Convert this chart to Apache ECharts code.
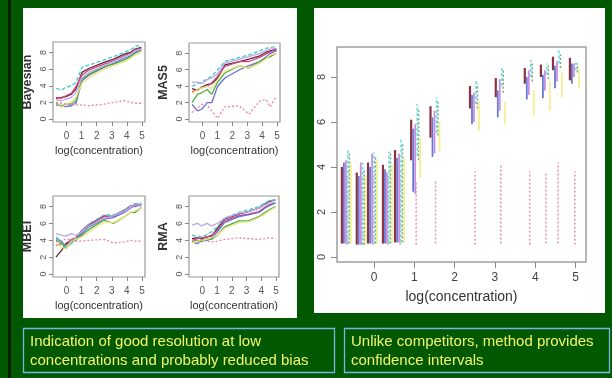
<!DOCTYPE html>
<html>
<head>
<meta charset="utf-8">
<script src="https://cdn.jsdelivr.net/npm/echarts@6/dist/echarts.min.js"></script>
<style>
html, body { margin: 0; padding: 0; background: #005800; }
#main { width: 612px; height: 378px; }
</style>
</head>
<body>
<div id="main"></div>
<script>
// log(concentration) of the spike-in levels
var conc = [-0.7, -0.33, -0.05, 0.32, 0.62, 1.02, 1.5, 2.48, 3.12, 3.84, 4.24, 4.54, 4.96];
var xTicks = [0, 1, 2, 3, 4, 5];
var yTicks = [0, 2, 4, 6, 8];

// lines in every small panel, same order in all of them
var lineNames = ['g1', 'g2', 'g3', 'g4', 'g5', 'g6', 'g7', 'absent'];
var lineColors = ['#5e2838', '#d4447f', '#6c6cd6', '#46b046', '#44caca', '#eee27a', '#bca8e8', '#e684a8'];
var lineDash = ['solid', 'solid', 'solid', 'solid', [4, 2], 'solid', 'solid', [2, 2]];

var bayesian = [
    [2.5, 2.6, 2.7, 3.0, 3.6, 5.6, 6.1, 6.8, 7.2, 7.8, 8.0, 8.4, 8.6],
    [2.6, 2.5, 2.8, 3.1, 3.9, 5.3, 5.9, 6.6, 7.0, 7.6, 7.9, 8.3, 8.5],
    [1.7, 1.6, 1.5, 1.6, 1.9, 4.6, 5.3, 6.2, 6.7, 7.3, 7.6, 8.0, 8.3],
    [1.9, 1.6, 1.8, 1.8, 2.2, 4.8, 5.4, 6.3, 6.6, 7.1, 7.5, 7.9, 8.2],
    [3.7, 3.5, 3.8, 4.0, 4.4, 6.2, 6.5, 7.1, 7.5, 8.0, 8.3, 8.7, 8.9],
    [2.1, 1.4, 1.8, 2.0, 2.6, 4.3, 5.0, 6.0, 6.4, 6.9, 7.3, 7.7, 8.1],
    [2.3, 2.2, 2.4, 2.6, 3.2, 5.0, 5.6, 6.4, 6.9, 7.5, 7.8, 8.2, 8.4],
    [2.0, 1.9, 1.8, 1.8, 1.7, 1.7, 1.6, 1.8, 2.0, 2.2, 2.0, 1.9, 1.9]
];
var mas5 = [
    [3.7, 3.5, 3.9, 4.2, 4.3, 5.0, 6.6, 7.0, 7.3, 7.7, 8.1, 8.3, 8.5],
    [3.3, 3.6, 3.8, 4.0, 4.4, 5.2, 6.4, 7.0, 7.0, 7.5, 7.9, 8.2, 8.4],
    [1.8, 1.0, 1.2, 2.0, 2.0, 4.0, 5.0, 6.0, 6.5, 7.0, 7.5, 8.0, 8.3],
    [2.0, 3.0, 3.2, 3.6, 3.0, 4.5, 5.6, 6.5, 6.2, 7.0, 7.4, 7.6, 8.0],
    [4.0, 4.3, 4.5, 4.9, 5.2, 6.0, 7.0, 7.5, 7.8, 8.3, 8.6, 8.7, 8.8],
    [3.1, 3.6, 3.8, 4.0, 3.7, 4.8, 5.8, 6.5, 6.2, 6.8, 7.3, 7.8, 8.0],
    [4.5, 4.5, 4.3, 4.8, 5.0, 5.5, 6.8, 7.3, 7.6, 8.0, 8.3, 8.5, 8.6],
    [0.8, 1.3, 1.8, 1.7, 1.0, 0.1, 1.5, 1.6, 0.6, 2.2, 2.4, 1.5, 2.8]
];
var mbei = [
    [2.0, 2.8, 3.6, 4.0, 4.2, 5.0, 5.8, 6.9, 6.8, 7.4, 7.9, 8.3, 8.2],
    [3.4, 3.6, 3.4, 4.1, 4.3, 5.2, 5.9, 6.8, 6.9, 7.6, 8.1, 8.0, 8.3],
    [4.2, 3.9, 3.2, 3.9, 4.0, 4.8, 5.6, 6.5, 6.7, 7.3, 7.8, 8.1, 8.1],
    [4.0, 3.7, 3.0, 3.8, 4.1, 4.6, 5.3, 6.4, 6.0, 6.8, 7.3, 7.3, 7.9],
    [4.4, 3.8, 3.3, 3.6, 4.3, 5.1, 6.0, 7.0, 7.0, 7.6, 8.0, 8.3, 8.4],
    [3.6, 3.2, 3.0, 3.9, 4.1, 4.4, 5.0, 6.2, 6.1, 6.8, 7.3, 7.5, 7.8],
    [4.8, 4.6, 4.5, 4.8, 4.6, 5.0, 5.7, 6.6, 6.9, 7.4, 7.9, 8.2, 8.2],
    [3.8, 4.0, 4.1, 4.1, 3.9, 3.9, 4.0, 4.1, 3.7, 3.8, 4.0, 3.9, 3.9]
];
var rma = [
    [4.2, 4.3, 4.2, 4.4, 4.5, 5.4, 6.5, 7.1, 7.4, 7.8, 8.3, 8.6, 8.8],
    [4.0, 4.2, 4.3, 4.4, 4.6, 5.2, 6.3, 6.9, 7.1, 7.4, 7.9, 8.2, 8.5],
    [3.8, 3.6, 4.1, 4.0, 4.2, 5.0, 6.1, 6.8, 7.0, 7.3, 7.8, 8.1, 8.4],
    [3.9, 4.0, 3.8, 4.2, 4.1, 4.6, 5.6, 6.3, 6.3, 6.8, 7.3, 7.6, 8.0],
    [4.6, 4.5, 4.4, 4.7, 5.0, 5.6, 6.6, 7.3, 7.6, 8.0, 8.4, 8.7, 8.8],
    [3.7, 3.9, 4.0, 4.1, 4.3, 4.6, 5.4, 6.1, 6.2, 6.7, 7.1, 7.5, 7.9],
    [5.8, 6.0, 5.7, 6.0, 5.7, 6.0, 6.6, 7.2, 7.4, 7.8, 8.2, 8.4, 8.5],
    [4.0, 4.1, 4.0, 3.9, 3.8, 3.9, 4.1, 4.3, 4.2, 4.1, 4.2, 4.3, 4.2]
];
var panelNames = ['Bayesian', 'MAS5', 'MBEI', 'RMA'];

// confidence intervals of the Bayesian method (right panel), one row per gene
var ciColors = ['#8a3442', '#6a78d2', '#c890e0', '#5ee0e0', '#6fa882', '#f4f092', '#e890aa'];
var ciLow = [
    [0.60, 0.55, 0.60, 0.60, 0.65, 4.3, 5.3, 6.6, 7.1, 7.7, 8.0, 8.3, 7.85],
    [0.60, 0.55, 0.60, 0.60, 0.65, 2.9, 4.45, 5.9, 6.2, 7.0, 7.05, 7.5, 7.7],
    [0.60, 0.55, 0.60, 0.60, 0.65, 2.8, 4.6, 6.0, 6.5, 7.2, 7.4, 7.8, 8.0],
    [0.60, 0.55, 0.60, 0.60, 0.65, 4.5, 5.5, 6.8, 7.6, 8.0, 8.1, 8.6, 8.3],
    [0.60, 0.55, 0.60, 0.60, 0.65, 4.3, 5.4, 6.6, 7.3, 7.8, 7.9, 8.4, 8.2],
    [0.60, 0.55, 0.60, 0.60, 0.65, 3.5, 4.7, 5.6, 5.9, 6.3, 6.5, 7.1, 7.5],
    [0.55, 0.55, 0.55, 0.55, 0.55, 0.55, 0.6, 0.55, 0.6, 0.55, 0.6, 0.6, 0.55]
];
var ciHigh = [
    [4.0, 3.75, 4.2, 4.1, 4.75, 6.1, 6.7, 7.6, 7.95, 8.4, 8.55, 8.9, 8.85],
    [4.2, 3.6, 4.0, 3.9, 4.4, 5.7, 6.2, 7.2, 7.4, 8.0, 8.1, 8.5, 8.6],
    [4.3, 4.2, 4.6, 3.75, 4.6, 5.9, 6.5, 7.3, 7.9, 8.3, 8.3, 8.7, 8.6],
    [4.75, 4.2, 4.66, 4.67, 5.3, 6.8, 7.1, 7.9, 8.45, 8.75, 8.6, 9.2, 8.7],
    [4.6, 3.9, 4.5, 4.7, 5.1, 6.6, 6.9, 7.7, 8.3, 8.6, 8.5, 9.0, 8.6],
    [4.2, 3.6, 4.3, 4.1, 4.4, 5.3, 6.0, 6.9, 6.9, 7.4, 7.8, 8.2, 8.4],
    [3.6, 3.5, 3.7, 3.6, 3.8, 3.4, 3.35, 3.8, 4.1, 3.8, 3.7, 4.2, 3.8]
];
var ciOffset = [-4, -2, 0, 2, 3.5, 5, 1];
var ciWidth = [2.2, 1.8, 1.8, 1.5, 1.5, 1.8, 1.5];
var ciDash = [null, null, null, [3, 2], [2, 2], null, [2, 2]];

var chart = echarts.init(document.getElementById('main'));

var smallGrids = [
    { left: 53, top: 42, width: 92, height: 80 },
    { left: 189, top: 43, width: 91, height: 79 },
    { left: 53, top: 196, width: 92, height: 81 },
    { left: 189, top: 196, width: 90, height: 81 }
];
var grids = [], xAxes = [], yAxes = [], series = [];

smallGrids.forEach(function(g, i) {
    grids.push({ left: g.left, top: g.top, width: g.width, height: g.height, show: true, borderColor: '#9a9a9a', borderWidth: 1.2 });
    xAxes.push({
        gridIndex: i, type: 'value', min: -0.9, max: 5.2,
        name: 'log(concentration)', nameLocation: 'middle', nameGap: 23,
        nameTextStyle: { fontSize: 11, color: '#333' },
        axisLine: { show: false, onZero: false }, splitLine: { show: false },
        axisTick: { length: 4, customValues: xTicks, lineStyle: { color: '#888' } },
        axisLabel: { customValues: xTicks, fontSize: 10, color: '#555', margin: 9 }
    });
    yAxes.push({
        gridIndex: i, type: 'value', min: -0.35, max: 9.25,
        name: panelNames[i], nameLocation: 'middle', nameGap: 19, nameRotate: 90,
        nameTextStyle: { fontSize: 12.5, fontWeight: 'bold', color: '#333' },
        axisLine: { show: false, onZero: false }, splitLine: { show: false },
        axisTick: { length: 4, customValues: yTicks, lineStyle: { color: '#888' } },
        axisLabel: { customValues: yTicks, fontSize: 9, color: '#555', margin: 5, rotate: 90 }
    });
});

[bayesian, mas5, mbei, rma].forEach(function(panel, i) {
    panel.forEach(function(vals, k) {
        series.push({
            type: 'line', name: lineNames[k], xAxisIndex: i, yAxisIndex: i,
            symbol: 'none', silent: true,
            data: conc.map(function(x, j) { return [x, vals[j]]; }),
            lineStyle: { color: lineColors[k], width: 1.3, type: lineDash[k] },
            z: k == 7 ? 3 : 2
        });
    });
});

// big panel
grids.push({ left: 337, top: 47, width: 249, height: 215, show: true, borderColor: '#a0a0a0', borderWidth: 1.5 });
xAxes.push({
    gridIndex: 4, type: 'value', min: -0.92, max: 5.26,
    name: 'log(concentration)', nameLocation: 'middle', nameGap: 28,
    nameTextStyle: { fontSize: 14, color: '#333' },
    axisLine: { show: false, onZero: false }, splitLine: { show: false },
    axisTick: { length: 6, customValues: xTicks, lineStyle: { color: '#888' } },
    axisLabel: { customValues: xTicks, fontSize: 12, color: '#444', margin: 10 }
});
yAxes.push({
    gridIndex: 4, type: 'value', min: -0.22, max: 9.33,
    axisLine: { show: false, onZero: false }, splitLine: { show: false },
    axisTick: { length: 6, customValues: yTicks, lineStyle: { color: '#888' } },
    axisLabel: { customValues: yTicks, fontSize: 11, color: '#444', margin: 10, rotate: 90 }
});

function intervalRenderer(k) {
    return function(params, api) {
        var lo = api.coord([api.value(0), api.value(1)]);
        var hi = api.coord([api.value(0), api.value(2)]);
        return {
            type: 'line',
            shape: { x1: lo[0] + ciOffset[k], y1: lo[1], x2: hi[0] + ciOffset[k], y2: hi[1] },
            style: { stroke: ciColors[k], lineWidth: ciWidth[k], lineDash: ciDash[k] }
        };
    };
}
ciLow.forEach(function(lows, k) {
    series.push({
        type: 'custom', xAxisIndex: 4, yAxisIndex: 4, silent: true,
        renderItem: intervalRenderer(k),
        encode: { x: 0, y: [1, 2] },
        data: conc.map(function(x, j) { return [x, lows[j], ciHigh[k][j]]; }),
        z: k == 6 ? 1 : 2
    });
});

var textFont = '15px "Liberation Sans", Arial, sans-serif';
chart.setOption({
    backgroundColor: '#005800',
    animation: false,
    textStyle: { fontFamily: '"Liberation Sans", Arial, sans-serif' },
    grid: grids,
    xAxis: xAxes,
    yAxis: yAxes,
    series: series,
    graphic: [
        { type: 'rect', z: -5, shape: { x: 8, y: 0, width: 3, height: 378 }, style: { fill: '#0b1f0b' } },
        { type: 'rect', z: -5, shape: { x: 23, y: 8, width: 274, height: 310 }, style: { fill: '#ffffff' } },
        { type: 'rect', z: -5, shape: { x: 314, y: 8, width: 291, height: 305 }, style: { fill: '#ffffff' } },
        { type: 'rect', shape: { x: 23.5, y: 328.5, width: 311, height: 44 }, style: { fill: '#005800', stroke: '#7fb2e0', lineWidth: 1.3 } },
        { type: 'rect', shape: { x: 344.5, y: 328.5, width: 265, height: 44 }, style: { fill: '#005800', stroke: '#7fb2e0', lineWidth: 1.3 } },
        { type: 'text', x: 30, y: 342, style: { text: 'Indication of good resolution at low', font: textFont, fill: '#f4f46a', verticalAlign: 'middle' } },
        { type: 'text', x: 30, y: 361, style: { text: 'concentrations and probably reduced bias', font: textFont, fill: '#f4f46a', verticalAlign: 'middle' } },
        { type: 'text', x: 351, y: 342, style: { text: 'Unlike competitors, method provides', font: textFont, fill: '#f4f46a', verticalAlign: 'middle' } },
        { type: 'text', x: 351, y: 361, style: { text: 'confidence intervals', font: textFont, fill: '#f4f46a', verticalAlign: 'middle' } }
    ]
});
</script>
</body>
</html>
